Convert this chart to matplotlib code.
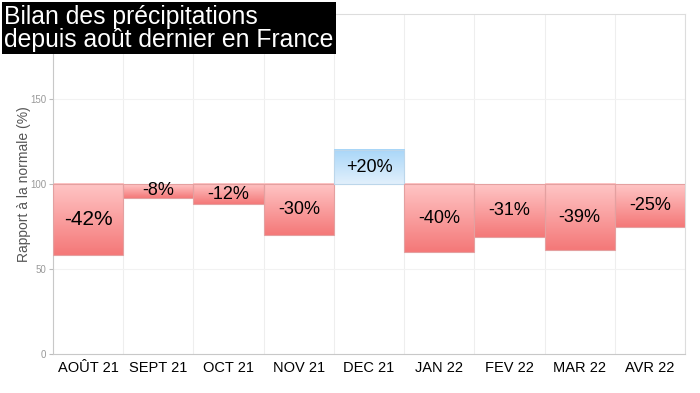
import numpy as np
import matplotlib.pyplot as plt
from matplotlib.colors import LinearSegmentedColormap
from matplotlib.patches import Rectangle

months = ['AOÛT 21', 'SEPT 21', 'OCT 21', 'NOV 21', 'DEC 21', 'JAN 22', 'FEV 22', 'MAR 22', 'AVR 22']
ecarts = [-42, -8, -12, -30, 20, -40, -31, -39, -25]
labels = ['-42%', '-8%', '-12%', '-30%', '+20%', '-40%', '-31%', '-39%', '-25%']
base = 100

plt.rcParams['font.family'] = ['Liberation Sans', 'DejaVu Sans']

reds = LinearSegmentedColormap.from_list('r', ['#ffc6c6', '#f47878'])
blues = LinearSegmentedColormap.from_list('b', ['#e2f0fc', '#a8d6f8'])

fig = plt.figure(figsize=(7, 3.93), dpi=100)
ax = fig.add_axes([0.0757, 0.0992, 0.9029, 0.8652])

grad = np.linspace(0, 1, 256).reshape(-1, 1)
for i, (v, lab) in enumerate(zip(ecarts, labels)):
    cmap = reds if v < 0 else blues
    lo, hi = min(base, base + v), max(base, base + v)
    # 0 = near the 100 line, 1 = far end of the bar
    g = grad[::-1] if v < 0 else grad
    ax.imshow(g, cmap=cmap, aspect='auto', extent=[i, i + 1, lo, hi], origin='lower', zorder=2)
    edge = '#e4a0a0' if v < 0 else '#bcd6ea'
    ax.add_patch(Rectangle((i, lo), 1, hi - lo, fill=False, ec=edge, lw=0.8, zorder=3))
    fs = 15 if i == 0 else 13
    ax.text(i + 0.5, (lo + hi) / 2, lab, ha='center', va='center', fontsize=fs, color='black', zorder=4)

ax.set_xlim(0, len(months))
ax.set_ylim(0, 200)
ax.set_xticks(np.arange(len(months)) + 0.5)
ax.set_xticklabels(months, fontsize=10.5)
ax.set_xticks(np.arange(len(months) + 1), minor=True)
ax.tick_params(axis='x', which='both', length=0, pad=5)
ax.set_yticks([0, 50, 100, 150])
ax.tick_params(axis='y', labelsize=7, labelcolor='#999999', color='#bbbbbb', length=3, pad=2)
ax.grid(which='minor', axis='x', color='#eeeeee', lw=0.8, zorder=0)
ax.grid(which='major', axis='y', color='#f2f2f2', lw=0.8, zorder=0)
ax.set_ylabel('Rapport à la normale (%)', fontsize=10, color='#555555', labelpad=-1)
for s in ['left', 'bottom']:
    ax.spines[s].set_color('#c8c8c8')
for s in ['top', 'right']:
    ax.spines[s].set_color('#dddddd')

fig.text(0.006, 0.988, 'Bilan des précipitations\ndepuis août dernier en France', ha='left', va='top',
         fontsize=17.8, color='white', linespacing=0.95,
         bbox=dict(boxstyle='square,pad=0.1', fc='black', ec='none'))

fig.savefig('out.png', dpi=100)
